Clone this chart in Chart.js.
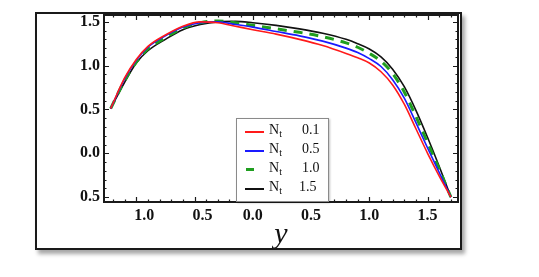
<!doctype html>
<html>
  <head>
    <script src="https://cdnjs.cloudflare.com/ajax/libs/Chart.js/4.4.1/chart.umd.js"></script>
    <style>
      body { margin:0; background:#fff; width:539px; height:277px; position:relative; overflow:hidden; }
      #box { position:absolute; left:35px; top:12px; width:423px; height:234px; border:2px solid #1a1a1a;
             box-shadow:3px 4px 4px rgba(0,0,0,0.35); background:#fff; }
      #c1 { position:absolute; left:0; top:0; }
      #leg { position:absolute; left:199px; top:104px; width:91px; height:82px; border:1px solid #8a8a8a;
             box-shadow:1px 1px 2px rgba(0,0,0,0.25); background:#fff;
             font-family:"Liberation Serif", "DejaVu Serif", serif; font-size:14px; color:#111; }
      .row { position:absolute; left:0; height:16px; width:90px; }
      .smp { position:absolute; top:8px; }
      .nt { position:absolute; left:32px; top:-1px; }
      .nt sub { font-size:10px; vertical-align:-3px; }
      .val { position:absolute; left:65px; top:-1px; }
    </style>
    <script>
      // N_t series
      let ntLabels=["0.1","0.5","1.0","1.5"];
      let ntColors=["#ff1a1a","#1a1aff","#1f9e1f","#111111"];
      let yValues=[-1.22,-1.1,-1.0,-0.9,-0.75,-0.6,-0.45,-0.3,-0.15,0,0.2,0.4,0.6,0.8,0.9,1.0,1.1,1.2,1.3,1.4,1.5,1.6,1.70];
      let nt01=[0.51,0.86,1.07,1.22,1.35,1.45,1.50,1.49,1.45,1.41,1.36,1.30,1.23,1.14,1.09,1.03,0.93,0.78,0.56,0.28,0.0,-0.26,-0.5];
      let nt05=[0.51,0.85,1.06,1.21,1.34,1.44,1.49,1.50,1.47,1.44,1.39,1.34,1.28,1.20,1.15,1.08,0.99,0.84,0.63,0.35,0.06,-0.22,-0.5];
      let nt10=[0.51,0.83,1.04,1.19,1.32,1.43,1.49,1.51,1.49,1.46,1.42,1.38,1.33,1.26,1.21,1.14,1.05,0.91,0.70,0.42,0.12,-0.18,-0.5];
      let nt15=[0.51,0.81,1.03,1.17,1.30,1.41,1.47,1.50,1.505,1.49,1.46,1.42,1.37,1.30,1.25,1.19,1.10,0.96,0.76,0.49,0.18,-0.15,-0.5];
      let xTicks=[-1.0,-0.5,0.0,0.5,1.0,1.5];
      let vTicks=[-0.5,0.0,0.5,1.0,1.5];

      let chart1;
      // frame with inward ticks on all four sides
      const frameTicks={
        id:'frameTicks',
        afterDraw(chart){
          const ctx=chart.ctx, a=chart.chartArea, sx=chart.scales.x, sy=chart.scales.y;
          ctx.save();
          ctx.strokeStyle='#1a1a1a';
          ctx.lineWidth=1.2;
          for(let i=Math.ceil(sx.min*10);i<=Math.floor(sx.max*10);i++){
            let major=(i%5==0), len=major?5:2.5, px=Math.round(sx.getPixelForValue(i/10))+0.5;
            ctx.beginPath();
            ctx.moveTo(px,a.bottom); ctx.lineTo(px,a.bottom-len);
            ctx.moveTo(px,a.top); ctx.lineTo(px,a.top+len);
            ctx.stroke();
          }
          for(let i=Math.ceil(sy.min*10);i<=Math.floor(sy.max*10);i++){
            let major=(i%5==0), len=major?5:2.5, py=Math.round(sy.getPixelForValue(i/10))+0.5;
            ctx.beginPath();
            ctx.moveTo(a.left,py); ctx.lineTo(a.left+len,py);
            ctx.moveTo(a.right,py); ctx.lineTo(a.right-len,py);
            ctx.stroke();
          }
          ctx.lineWidth=2;
          ctx.strokeRect(a.left,a.top,a.right-a.left,a.bottom-a.top);
          ctx.restore();
        }
      };

      function startPage(){
        let sets=[nt01,nt05,nt10,nt15].map((s,k)=>({
          label:'Nt '+ntLabels[k],
          data:s.map((v,i)=>({x:yValues[i],y:v})),
          borderColor:ntColors[k],
          borderWidth:k==2?3:1.6,
          borderDash:k==2?[9,7]:[],
          pointRadius:0,
          cubicInterpolationMode:'monotone',
          fill:false
        }));
        chart1=new Chart(document.getElementById("c1"),{
          type:'line',
          data:{datasets:sets},
          options:{
            responsive:false,
            animation:false,
            layout:{padding:{top:1,right:2,left:0,bottom:0}},
            plugins:{legend:{display:false},tooltip:{enabled:false}},
            scales:{
              x:{
                type:'linear', min:-1.277, max:1.761,
                grid:{display:false,drawTicks:false}, border:{display:false},
                afterBuildTicks:s=>{s.ticks=xTicks.map(v=>({value:v}));},
                afterFit:s=>{s.height=46; s.paddingLeft=0; s.paddingRight=0;},
                ticks:{padding:4,color:'#111',font:{family:'"Liberation Serif", serif',weight:'bold',size:16},
                  callback:v=>(v<0?'\u2003':'')+Math.abs(v).toFixed(1)},
                title:{display:true,text:'y',color:'#111',padding:{top:0,bottom:-5},
                  font:{family:'"Liberation Serif", serif',style:'italic',size:30,lineHeight:1.2}}
              },
              y:{
                min:-0.556, max:1.578,
                grid:{display:false,drawTicks:false}, border:{display:false},
                afterBuildTicks:s=>{s.ticks=vTicks.map(v=>({value:v}));},
                afterFit:s=>{s.width=67; s.paddingTop=0; s.paddingBottom=0;},
                ticks:{padding:4,color:'#111',font:{family:'"Liberation Serif", serif',weight:'bold',size:16},
                  callback:v=>Math.abs(v).toFixed(1)}
              }
            }
          },
          plugins:[frameTicks]
        });
        // legend with subscript text
        let leg=document.getElementById("leg");
        let rowsTop=[4,23,42,61];
        ntLabels.forEach((lab,k)=>{
          let r=document.createElement("div");
          r.className="row"; r.style.top=rowsTop[k]+"px";
          let smp=document.createElement("div");
          smp.className="smp";
          if(k==2){ smp.style.left="9px"; smp.style.width="8px"; smp.style.borderTop="3px solid "+ntColors[k]; smp.style.top="7px"; }
          else { smp.style.left="8px"; smp.style.width="19px"; smp.style.borderTop="2px solid "+ntColors[k]; }
          r.appendChild(smp);
          let nt=document.createElement("span"); nt.className="nt"; nt.innerHTML="N<sub>t</sub>";
          r.appendChild(nt);
          let val=document.createElement("span"); val.className="val"; val.innerText=lab;
          if(k==3) val.style.left="62px";
          r.appendChild(val);
          leg.appendChild(r);
        });
      }
    </script>
  </head>
  <body onload="startPage()">
    <div id="box">
      <canvas id="c1" width="423" height="234"></canvas>
      <div id="leg"></div>
    </div>
  </body>
</html>
